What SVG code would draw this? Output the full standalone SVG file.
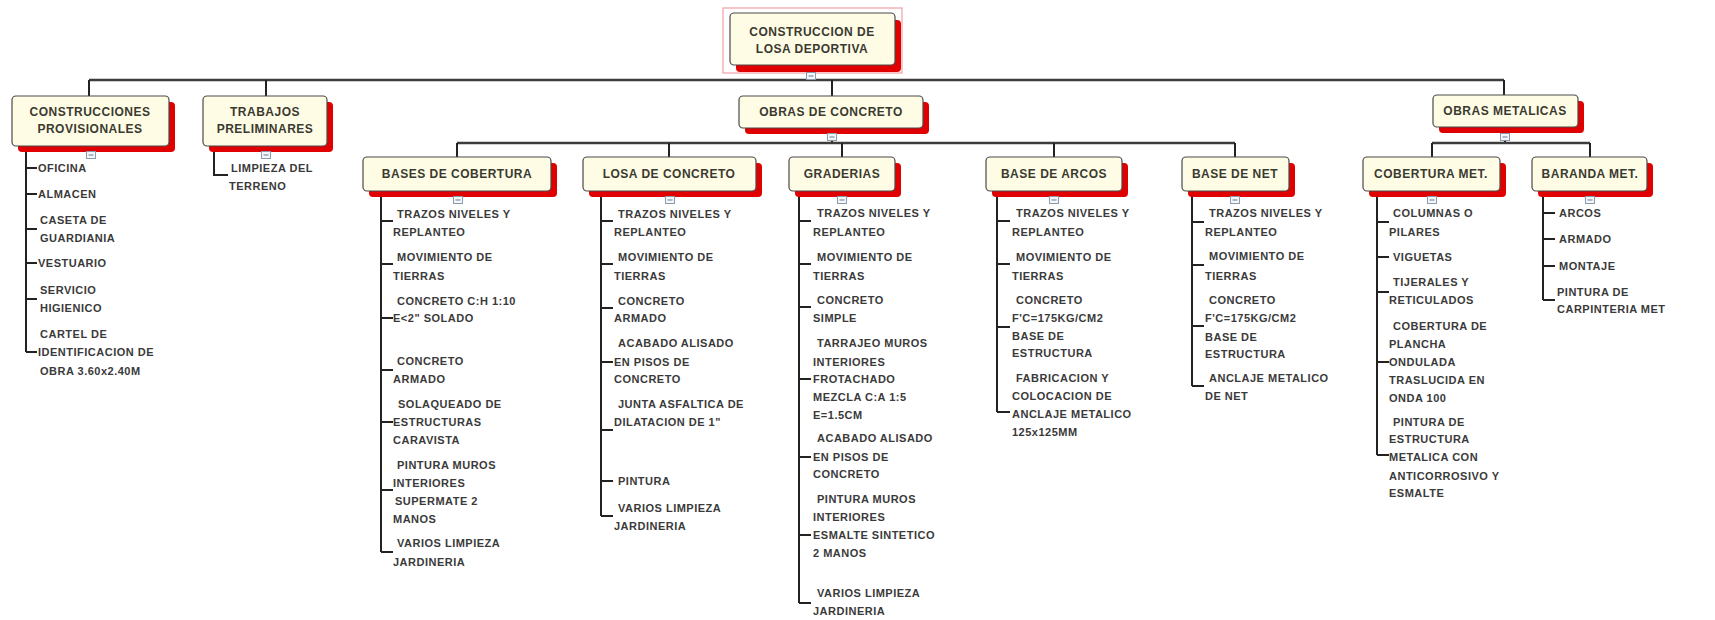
<svg xmlns="http://www.w3.org/2000/svg" width="1715" height="620" viewBox="0 0 1715 620">
<defs>
<style>
.sh{fill:#e00000}
.bx{fill:#fffce6;stroke:#4a4a4a;stroke-width:1.2}
.nt{font-family:"Liberation Sans",Arial,sans-serif;font-size:12px;font-weight:bold;fill:#3a3a30;text-anchor:middle;letter-spacing:0.5px}
.lt{font-family:"Liberation Sans",Arial,sans-serif;font-size:11px;font-weight:bold;fill:#3a3a3a;letter-spacing:0.5px}
.bus{stroke:#3c3c3c;stroke-width:2.6;fill:none}
.ln{stroke:#222;stroke-width:2;fill:none}
.ic rect{fill:#f4f7fa;stroke:#8a9bb0;stroke-width:1}
.ic line{stroke:#6a7a90;stroke-width:1}
</style>
</defs>
<rect width="1715" height="620" fill="#ffffff"/>

<g id="connectors">
<path class="ln" d="M811 65V80"/>
<path class="bus" d="M89 80H1504"/>
<path class="ln" d="M89 80V96M266 80V96M832 80V96M1504 80V95"/>
<path class="ln" d="M832 128V143M1505 127V143"/>
<path class="bus" d="M457 143H1235M1432 143H1590"/>
<path class="ln" d="M457 143V157M669 143V157M842 143V157M1054 143V157M1235 143V157M1432 143V157M1590 143V157"/>
<!-- construcciones -->
<path class="ln" d="M26 146V352M26 168H37M26 194H37M26 229H37M26 263H37M26 299H37M26 352H37"/>
<!-- trabajos -->
<path class="ln" d="M214 146V175H228"/>
<!-- bases -->
<path class="ln" d="M381 191V552M381 221H393M381 264H393M381 318H393M381 370H393M381 422H393M381 490H393M381 552H393"/>
<!-- losa -->
<path class="ln" d="M601 191V516M601 221H613M601 264H613M601 308H613M601 362H613M601 430H613M601 481H613M601 516H613"/>
<!-- graderias -->
<path class="ln" d="M799 191V603M799 221H811M799 264H811M799 307H811M799 379H811M799 457H811M799 535H811M799 603H811"/>
<!-- arcos -->
<path class="ln" d="M997 191V412M997 221H1010M997 264H1010M997 327H1010M997 412H1010"/>
<!-- net -->
<path class="ln" d="M1192 191V386M1192 222H1204M1192 265H1204M1192 326H1204M1192 386H1204"/>
<!-- cobertura met -->
<path class="ln" d="M1377 191V455M1377 222H1389M1377 257H1389M1377 292H1389M1377 362H1389M1377 455H1389"/>
<!-- baranda -->
<path class="ln" d="M1543 191V300M1543 213H1555M1543 239H1555M1543 266H1555M1543 300H1555"/>
</g>

<g id="n-root">
<rect x="723" y="8" width="179" height="65" fill="none" stroke="#f0a0a8" stroke-width="1.2"/>
<rect class="sh" x="736" y="20" width="165" height="52" rx="4"/>
<rect class="bx" x="730" y="13" width="165" height="52" rx="4"/>
<text class="nt" x="812" y="36">CONSTRUCCION DE</text>
<text class="nt" x="812" y="53">LOSA DEPORTIVA</text>
</g>

<g id="n-provisionales">
<rect class="sh" x="18" y="102" width="157" height="50" rx="4"/>
<rect class="bx" x="12" y="96" width="157" height="50" rx="4"/>
<text class="nt" x="90" y="116">CONSTRUCCIONES</text>
<text class="nt" x="90" y="133">PROVISIONALES</text>
</g>
<g id="n-preliminares">
<rect class="sh" x="209" y="102" width="124" height="50" rx="4"/>
<rect class="bx" x="203" y="96" width="124" height="50" rx="4"/>
<text class="nt" x="265" y="116">TRABAJOS</text>
<text class="nt" x="265" y="133">PRELIMINARES</text>
</g>
<g id="n-concreto">
<rect class="sh" x="745" y="102" width="184" height="32" rx="4"/>
<rect class="bx" x="739" y="96" width="184" height="32" rx="4"/>
<text class="nt" x="831" y="116">OBRAS DE CONCRETO</text>
</g>
<g id="n-metalicas">
<rect class="sh" x="1439" y="101" width="145" height="32" rx="4"/>
<rect class="bx" x="1433" y="95" width="145" height="32" rx="4"/>
<text class="nt" x="1505" y="115">OBRAS METALICAS</text>
</g>

<g id="n-bases">
<rect class="sh" x="369" y="163" width="188" height="34" rx="4"/>
<rect class="bx" x="363" y="157" width="188" height="34" rx="4"/>
<text class="nt" x="457" y="178">BASES DE COBERTURA</text>
</g>
<g id="n-losa">
<rect class="sh" x="589" y="163" width="173" height="34" rx="4"/>
<rect class="bx" x="583" y="157" width="173" height="34" rx="4"/>
<text class="nt" x="669" y="178">LOSA DE CONCRETO</text>
</g>
<g id="n-graderias">
<rect class="sh" x="795" y="163" width="106" height="34" rx="4"/>
<rect class="bx" x="789" y="157" width="106" height="34" rx="4"/>
<text class="nt" x="842" y="178">GRADERIAS</text>
</g>
<g id="n-arcos">
<rect class="sh" x="992" y="163" width="136" height="34" rx="4"/>
<rect class="bx" x="986" y="157" width="136" height="34" rx="4"/>
<text class="nt" x="1054" y="178">BASE DE ARCOS</text>
</g>
<g id="n-net">
<rect class="sh" x="1188" y="163" width="107" height="34" rx="4"/>
<rect class="bx" x="1182" y="157" width="107" height="34" rx="4"/>
<text class="nt" x="1235" y="178">BASE DE NET</text>
</g>
<g id="n-cobmet">
<rect class="sh" x="1369" y="163" width="137" height="34" rx="4"/>
<rect class="bx" x="1363" y="157" width="137" height="34" rx="4"/>
<text class="nt" x="1431" y="178">COBERTURA MET.</text>
</g>
<g id="n-baranda">
<rect class="sh" x="1538" y="163" width="115" height="34" rx="4"/>
<rect class="bx" x="1532" y="157" width="115" height="34" rx="4"/>
<text class="nt" x="1590" y="178">BARANDA MET.</text>
</g>

<g id="collapse-icons" class="ic">
<g transform="translate(811 76)"><rect x="-4.5" y="-3.5" width="9" height="7"/><line x1="-2.5" y1="0" x2="2.5" y2="0"/></g>
<g transform="translate(91 155)"><rect x="-4.5" y="-3.5" width="9" height="7"/><line x1="-2.5" y1="0" x2="2.5" y2="0"/></g>
<g transform="translate(266 155)"><rect x="-4.5" y="-3.5" width="9" height="7"/><line x1="-2.5" y1="0" x2="2.5" y2="0"/></g>
<g transform="translate(832 137)"><rect x="-4.5" y="-3.5" width="9" height="7"/><line x1="-2.5" y1="0" x2="2.5" y2="0"/></g>
<g transform="translate(1505 137)"><rect x="-4.5" y="-3.5" width="9" height="7"/><line x1="-2.5" y1="0" x2="2.5" y2="0"/></g>
<g transform="translate(458 200)"><rect x="-4.5" y="-3.5" width="9" height="7"/><line x1="-2.5" y1="0" x2="2.5" y2="0"/></g>
<g transform="translate(670 200)"><rect x="-4.5" y="-3.5" width="9" height="7"/><line x1="-2.5" y1="0" x2="2.5" y2="0"/></g>
<g transform="translate(842 200)"><rect x="-4.5" y="-3.5" width="9" height="7"/><line x1="-2.5" y1="0" x2="2.5" y2="0"/></g>
<g transform="translate(1054 200)"><rect x="-4.5" y="-3.5" width="9" height="7"/><line x1="-2.5" y1="0" x2="2.5" y2="0"/></g>
<g transform="translate(1235 200)"><rect x="-4.5" y="-3.5" width="9" height="7"/><line x1="-2.5" y1="0" x2="2.5" y2="0"/></g>
<g transform="translate(1432 200)"><rect x="-4.5" y="-3.5" width="9" height="7"/><line x1="-2.5" y1="0" x2="2.5" y2="0"/></g>
<g transform="translate(1590 200)"><rect x="-4.5" y="-3.5" width="9" height="7"/><line x1="-2.5" y1="0" x2="2.5" y2="0"/></g>
</g>

<!-- leaves: construcciones provisionales -->
<g id="l-oficina"><text class="lt" x="38" y="172">OFICINA</text></g>
<g id="l-almacen"><text class="lt" x="38" y="198">ALMACEN</text></g>
<g id="l-caseta"><text class="lt" x="40" y="224">CASETA DE</text><text class="lt" x="40" y="242">GUARDIANIA</text></g>
<g id="l-vestuario"><text class="lt" x="38" y="267">VESTUARIO</text></g>
<g id="l-servicio"><text class="lt" x="40" y="294">SERVICIO</text><text class="lt" x="40" y="312">HIGIENICO</text></g>
<g id="l-cartel"><text class="lt" x="40" y="338">CARTEL DE</text><text class="lt" x="38" y="356">IDENTIFICACION DE</text><text class="lt" x="40" y="375">OBRA 3.60x2.40M</text></g>

<!-- trabajos preliminares -->
<g id="l-limpieza"><text class="lt" x="231" y="172">LIMPIEZA DEL</text><text class="lt" x="229" y="190">TERRENO</text></g>

<!-- bases de cobertura -->
<g id="l-b1"><text class="lt" x="397" y="218">TRAZOS NIVELES Y</text><text class="lt" x="393" y="236">REPLANTEO</text></g>
<g id="l-b2"><text class="lt" x="397" y="261">MOVIMIENTO DE</text><text class="lt" x="393" y="280">TIERRAS</text></g>
<g id="l-b3"><text class="lt" x="397" y="305">CONCRETO C:H 1:10</text><text class="lt" x="393" y="322">E&lt;2" SOLADO</text></g>
<g id="l-b4"><text class="lt" x="397" y="365">CONCRETO</text><text class="lt" x="393" y="383">ARMADO</text></g>
<g id="l-b5"><text class="lt" x="398" y="408">SOLAQUEADO DE</text><text class="lt" x="393" y="426">ESTRUCTURAS</text><text class="lt" x="393" y="444">CARAVISTA</text></g>
<g id="l-b6"><text class="lt" x="397" y="469">PINTURA MUROS</text><text class="lt" x="393" y="487">INTERIORES</text><text class="lt" x="395" y="505">SUPERMATE 2</text><text class="lt" x="393" y="523">MANOS</text></g>
<g id="l-b7"><text class="lt" x="397" y="547">VARIOS LIMPIEZA</text><text class="lt" x="393" y="566">JARDINERIA</text></g>

<!-- losa de concreto -->
<g id="l-l1"><text class="lt" x="618" y="218">TRAZOS NIVELES Y</text><text class="lt" x="614" y="236">REPLANTEO</text></g>
<g id="l-l2"><text class="lt" x="618" y="261">MOVIMIENTO DE</text><text class="lt" x="614" y="280">TIERRAS</text></g>
<g id="l-l3"><text class="lt" x="618" y="305">CONCRETO</text><text class="lt" x="614" y="322">ARMADO</text></g>
<g id="l-l4"><text class="lt" x="618" y="347">ACABADO ALISADO</text><text class="lt" x="614" y="366">EN PISOS DE</text><text class="lt" x="614" y="383">CONCRETO</text></g>
<g id="l-l5"><text class="lt" x="618" y="408">JUNTA ASFALTICA DE</text><text class="lt" x="614" y="426">DILATACION DE 1"</text></g>
<g id="l-l6"><text class="lt" x="618" y="485">PINTURA</text></g>
<g id="l-l7"><text class="lt" x="618" y="512">VARIOS LIMPIEZA</text><text class="lt" x="614" y="530">JARDINERIA</text></g>

<!-- graderias -->
<g id="l-g1"><text class="lt" x="817" y="217">TRAZOS NIVELES Y</text><text class="lt" x="813" y="236">REPLANTEO</text></g>
<g id="l-g2"><text class="lt" x="817" y="261">MOVIMIENTO DE</text><text class="lt" x="813" y="280">TIERRAS</text></g>
<g id="l-g3"><text class="lt" x="817" y="304">CONCRETO</text><text class="lt" x="813" y="322">SIMPLE</text></g>
<g id="l-g4"><text class="lt" x="817" y="347">TARRAJEO MUROS</text><text class="lt" x="813" y="366">INTERIORES</text><text class="lt" x="813" y="383">FROTACHADO</text><text class="lt" x="813" y="401">MEZCLA C:A 1:5</text><text class="lt" x="813" y="419">E=1.5CM</text></g>
<g id="l-g5"><text class="lt" x="817" y="442">ACABADO ALISADO</text><text class="lt" x="813" y="461">EN PISOS DE</text><text class="lt" x="813" y="478">CONCRETO</text></g>
<g id="l-g6"><text class="lt" x="817" y="503">PINTURA MUROS</text><text class="lt" x="813" y="521">INTERIORES</text><text class="lt" x="813" y="539">ESMALTE SINTETICO</text><text class="lt" x="813" y="557">2 MANOS</text></g>
<g id="l-g7"><text class="lt" x="817" y="597">VARIOS LIMPIEZA</text><text class="lt" x="813" y="615">JARDINERIA</text></g>

<!-- base de arcos -->
<g id="l-a1"><text class="lt" x="1016" y="217">TRAZOS NIVELES Y</text><text class="lt" x="1012" y="236">REPLANTEO</text></g>
<g id="l-a2"><text class="lt" x="1016" y="261">MOVIMIENTO DE</text><text class="lt" x="1012" y="280">TIERRAS</text></g>
<g id="l-a3"><text class="lt" x="1016" y="304">CONCRETO</text><text class="lt" x="1012" y="322">F'C=175KG/CM2</text><text class="lt" x="1012" y="340">BASE DE</text><text class="lt" x="1012" y="357">ESTRUCTURA</text></g>
<g id="l-a4"><text class="lt" x="1016" y="382">FABRICACION Y</text><text class="lt" x="1012" y="400">COLOCACION DE</text><text class="lt" x="1012" y="418">ANCLAJE METALICO</text><text class="lt" x="1012" y="436">125x125MM</text></g>

<!-- base de net -->
<g id="l-n1"><text class="lt" x="1209" y="217">TRAZOS NIVELES Y</text><text class="lt" x="1205" y="236">REPLANTEO</text></g>
<g id="l-n2"><text class="lt" x="1209" y="260">MOVIMIENTO DE</text><text class="lt" x="1205" y="280">TIERRAS</text></g>
<g id="l-n3"><text class="lt" x="1209" y="304">CONCRETO</text><text class="lt" x="1205" y="322">F'C=175KG/CM2</text><text class="lt" x="1205" y="341">BASE DE</text><text class="lt" x="1205" y="358">ESTRUCTURA</text></g>
<g id="l-n4"><text class="lt" x="1209" y="382">ANCLAJE METALICO</text><text class="lt" x="1205" y="400">DE NET</text></g>

<!-- cobertura met -->
<g id="l-c1"><text class="lt" x="1393" y="217">COLUMNAS O</text><text class="lt" x="1389" y="236">PILARES</text></g>
<g id="l-c2"><text class="lt" x="1393" y="261">VIGUETAS</text></g>
<g id="l-c3"><text class="lt" x="1393" y="286">TIJERALES Y</text><text class="lt" x="1389" y="304">RETICULADOS</text></g>
<g id="l-c4"><text class="lt" x="1393" y="330">COBERTURA DE</text><text class="lt" x="1389" y="348">PLANCHA</text><text class="lt" x="1389" y="366">ONDULADA</text><text class="lt" x="1389" y="384">TRASLUCIDA EN</text><text class="lt" x="1389" y="402">ONDA 100</text></g>
<g id="l-c5"><text class="lt" x="1393" y="426">PINTURA DE</text><text class="lt" x="1389" y="443">ESTRUCTURA</text><text class="lt" x="1389" y="461">METALICA CON</text><text class="lt" x="1389" y="480">ANTICORROSIVO Y</text><text class="lt" x="1389" y="497">ESMALTE</text></g>

<!-- baranda met -->
<g id="l-r1"><text class="lt" x="1559" y="217">ARCOS</text></g>
<g id="l-r2"><text class="lt" x="1559" y="243">ARMADO</text></g>
<g id="l-r3"><text class="lt" x="1559" y="270">MONTAJE</text></g>
<g id="l-r4"><text class="lt" x="1557" y="296">PINTURA DE</text><text class="lt" x="1557" y="313">CARPINTERIA MET</text></g>
</svg>
